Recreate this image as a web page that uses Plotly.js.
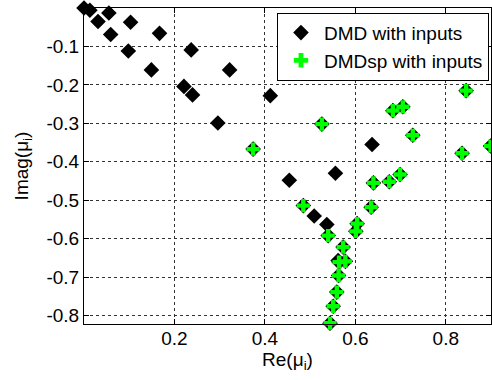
<!DOCTYPE html>
<html>
<head>
<meta charset="utf-8">
<script src="https://cdn.plot.ly/plotly-3.0.1.min.js"></script>
<style>html,body{margin:0;padding:0;background:#fff;}#chart{width:492px;height:380px;}</style>
</head>
<body>
<div id="chart"></div>
<script>
// DMD with inputs (black diamonds), including those under the green crosses
var dmdRe = [0.000, 0.013, 0.031, 0.055, 0.059, 0.103, 0.098, 0.167, 0.149, 0.237, 0.221, 0.240, 0.322, 0.296,
             0.412, 0.637, 0.454, 0.556, 0.509, 0.537, 0.562,
             0.374, 0.526, 0.683, 0.705, 0.727, 0.845, 0.836, 0.899, 0.640, 0.675, 0.699, 0.635, 0.485,
             0.604, 0.601, 0.540, 0.573, 0.564, 0.578, 0.563, 0.559, 0.551, 0.544];
var dmdIm = [0.000, -0.006, -0.035, -0.013, -0.069, -0.037, -0.112, -0.066, -0.161, -0.109, -0.204, -0.226, -0.161, -0.299,
             -0.228, -0.355, -0.448, -0.430, -0.541, -0.563, -0.657,
             -0.367, -0.302, -0.267, -0.257, -0.331, -0.215, -0.378, -0.359, -0.455, -0.452, -0.433, -0.518, -0.514,
             -0.561, -0.581, -0.592, -0.622, -0.661, -0.659, -0.696, -0.739, -0.776, -0.820];
// DMDsp with inputs (green crosses)
var spRe = [0.374, 0.526, 0.683, 0.705, 0.727, 0.845, 0.836, 0.899, 0.640, 0.675, 0.699, 0.635, 0.485,
            0.604, 0.601, 0.540, 0.573, 0.564, 0.578, 0.563, 0.559, 0.551, 0.544];
var spIm = [-0.367, -0.302, -0.267, -0.257, -0.331, -0.215, -0.378, -0.359, -0.455, -0.452, -0.433, -0.518, -0.514,
            -0.561, -0.581, -0.592, -0.622, -0.661, -0.659, -0.696, -0.739, -0.776, -0.820];
var xTicks = [0.2, 0.4, 0.6, 0.8];
var xTickText = ['0.2', '0.4', '0.6', '0.8'];
var yTicks = [-0.1, -0.2, -0.3, -0.4, -0.5, -0.6, -0.7, -0.8];
var yTickText = ['-0.1', '-0.2', '-0.3', '-0.4', '-0.5', '-0.6', '-0.7', '-0.8'];

var font = 'Liberation Sans, Arial, Helvetica, sans-serif';

var traces = [
  {x: dmdRe, y: dmdIm, type: 'scatter', mode: 'markers', name: 'DMD with inputs', cliponaxis: false,
   marker: {symbol: 'diamond', size: 12, color: '#000000', line: {width: 0}}},
  {x: spRe, y: spIm, type: 'scatter', mode: 'markers', name: 'DMDsp with inputs', cliponaxis: false,
   marker: {symbol: 'cross', size: 11, color: '#00ff00', line: {width: 0}}}
];

var axisCommon = {
  showline: true, linecolor: '#000', linewidth: 1, mirror: 'ticks',
  ticks: 'inside', ticklen: 5, tickcolor: '#000', tickwidth: 1,
  showgrid: true, gridcolor: '#333', griddash: 'dot', gridwidth: 1,
  zeroline: false, tickfont: {family: font, size: 19, color: '#000'}
};

var layout = {
  width: 492, height: 380,
  margin: {l: 84, r: 1, t: 8, b: 56},
  paper_bgcolor: '#fff', plot_bgcolor: '#fff',
  showlegend: true,
  xaxis: Object.assign({}, axisCommon, {
    range: [0, 0.9], tickvals: xTicks, ticktext: xTickText, ticklabelstandoff: -3,
    title: {text: 'Re(μ<sub>i</sub>)', font: {family: font, size: 19, color: '#000'}, standoff: 3}
  }),
  yaxis: Object.assign({}, axisCommon, {
    range: [-0.822, 0], tickvals: yTicks, ticktext: yTickText,
    title: {text: 'Imag(μ<sub>i</sub>)', font: {family: font, size: 19, color: '#000'}, standoff: 12}
  }),
  legend: {
    x: 0.995, y: 0.985, xanchor: 'right', yanchor: 'top',
    bgcolor: '#fff', bordercolor: '#000', borderwidth: 1,
    font: {family: font, size: 19, color: '#000'},
    tracegroupgap: 0, itemsizing: 'constant', itemwidth: 36
  }
};

Plotly.newPlot('chart', traces, layout, {displayModeBar: false, staticPlot: true});
</script>
</body>
</html>
